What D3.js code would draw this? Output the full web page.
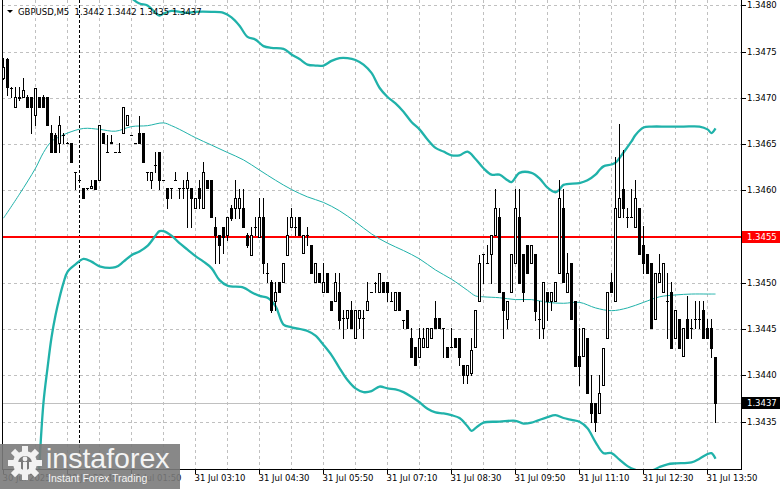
<!DOCTYPE html>
<html><head><meta charset="utf-8">
<script src="https://cdn.jsdelivr.net/npm/d3@7"></script>
<style>html,body{margin:0;padding:0;background:#fff;overflow:hidden}svg{display:block}</style>
</head><body><svg id="c" width="781" height="489"></svg>
<script>
const symbolTitle = "GBPUSD,M5";
const headerOHLC = ["1.3442","1.3442","1.3435","1.3437"];
const levelPrice = 1.3455;
const lastPrice = 1.3437;
const priceTicks = [1.3435,1.3440,1.3445,1.3450,1.3455,1.3460,1.3465,1.3470,1.3475,1.3480];
const timeTickIdx = [0,16,32,48,64,80,96,112,128,144,160,176];
const timeLabels = ["30 Jul 2025","30 Jul 23:45","31 Jul 01:50","31 Jul 03:10","31 Jul 04:30","31 Jul 05:50","31 Jul 07:10","31 Jul 08:30","31 Jul 09:50","31 Jul 11:10","31 Jul 12:30","31 Jul 13:50"];
const separatorIdx = 19;

const openP = [
1.34722,1.34742,1.34711,1.34690,1.34701,1.34701,1.34701,1.34701,1.34681,1.34701,
1.34701,1.34701,1.34662,1.34660,1.34651,1.34660,1.34651,1.34651,1.34620,1.34611,
1.34603,1.34603,1.34603,1.34611,1.34611,1.34662,1.34642,1.34651,1.34642,1.34642,
1.34662,1.34671,1.34660,1.34651,1.34662,1.34662,1.34620,1.34611,1.34628,1.34642,
1.34611,1.34603,1.34603,1.34611,1.34603,1.34603,1.34603,1.34603,1.34581,1.34603,
1.34581,1.34611,1.34611,1.34561,1.34552,1.34561,1.34552,1.34581,1.34581,1.34581,
1.34581,1.34552,1.34530,1.34561,1.34550,1.34571,1.34511,1.34501,1.34481,1.34501,
1.34501,1.34530,1.34561,1.34561,1.34571,1.34532,1.34552,1.34541,1.34501,1.34511,
1.34490,1.34511,1.34481,1.34481,1.34490,1.34462,1.34462,1.34471,1.34440,1.34462,
1.34462,1.34471,1.34490,1.34500,1.34490,1.34501,1.34501,1.34481,1.34471,1.34490,
1.34460,1.34471,1.34440,1.34431,1.34420,1.34431,1.34431,1.34440,1.34462,1.34462,
1.34451,1.34431,1.34431,1.34440,1.34440,1.34411,1.34400,1.34403,1.34431,1.34481,
1.34531,1.34522,1.34531,1.34552,1.34571,1.34490,1.34461,1.34490,1.34522,1.34571,
1.34531,1.34541,1.34522,1.34531,1.34461,1.34451,1.34490,1.34481,1.34481,1.34511,
1.34581,1.34490,1.34522,1.34481,1.34421,1.34421,1.34440,1.34370,1.34370,1.34359,
1.34390,1.34440,1.34501,1.34481,1.34571,1.34602,1.34571,1.34571,1.34561,1.34581,
1.34541,1.34531,1.34522,1.34461,1.34501,1.34490,1.34481,1.34490,1.34440,1.34461,
1.34421,1.34461,1.34451,1.34461,1.34461,1.34471,1.34451,1.34451,1.34420];
const highP = [
1.34743,1.34743,1.34712,1.34712,1.34712,1.34722,1.34703,1.34701,1.34711,1.34701,
1.34703,1.34701,1.34671,1.34662,1.34680,1.34662,1.34652,1.34651,1.34620,1.34614,
1.34603,1.34603,1.34611,1.34611,1.34671,1.34662,1.34660,1.34660,1.34642,1.34651,
1.34690,1.34682,1.34660,1.34651,1.34680,1.34662,1.34620,1.34620,1.34641,1.34642,
1.34611,1.34603,1.34603,1.34620,1.34603,1.34611,1.34620,1.34603,1.34592,1.34611,
1.34631,1.34611,1.34611,1.34571,1.34552,1.34561,1.34571,1.34584,1.34611,1.34601,
1.34601,1.34554,1.34560,1.34571,1.34592,1.34592,1.34522,1.34503,1.34501,1.34501,
1.34522,1.34571,1.34581,1.34571,1.34571,1.34552,1.34561,1.34541,1.34522,1.34511,
1.34522,1.34511,1.34481,1.34511,1.34511,1.34471,1.34471,1.34481,1.34471,1.34471,
1.34471,1.34501,1.34490,1.34501,1.34511,1.34501,1.34501,1.34490,1.34490,1.34490,
1.34460,1.34471,1.34451,1.34431,1.34451,1.34451,1.34451,1.34451,1.34481,1.34462,
1.34451,1.34431,1.34451,1.34440,1.34440,1.34411,1.34411,1.34440,1.34471,1.34530,
1.34531,1.34541,1.34552,1.34601,1.34581,1.34490,1.34481,1.34531,1.34602,1.34602,
1.34531,1.34541,1.34541,1.34531,1.34481,1.34501,1.34490,1.34490,1.34501,1.34611,
1.34601,1.34532,1.34522,1.34481,1.34451,1.34451,1.34440,1.34400,1.34370,1.34400,
1.34430,1.34490,1.34511,1.34636,1.34672,1.34644,1.34581,1.34602,1.34611,1.34581,
1.34562,1.34531,1.34522,1.34511,1.34531,1.34522,1.34511,1.34501,1.34471,1.34461,
1.34451,1.34486,1.34461,1.34481,1.34481,1.34481,1.34461,1.34461,1.34420];
const lowP = [
1.34720,1.34703,1.34701,1.34690,1.34698,1.34701,1.34690,1.34662,1.34671,1.34690,
1.34690,1.34671,1.34642,1.34642,1.34642,1.34651,1.34651,1.34631,1.34601,1.34609,
1.34592,1.34601,1.34603,1.34601,1.34611,1.34651,1.34642,1.34651,1.34642,1.34642,
1.34662,1.34671,1.34660,1.34651,1.34651,1.34631,1.34611,1.34603,1.34620,1.34601,
1.34611,1.34581,1.34592,1.34611,1.34592,1.34592,1.34561,1.34561,1.34581,1.34581,
1.34581,1.34603,1.34571,1.34522,1.34522,1.34532,1.34546,1.34568,1.34570,1.34570,
1.34561,1.34539,1.34530,1.34552,1.34550,1.34511,1.34501,1.34469,1.34471,1.34490,
1.34501,1.34530,1.34561,1.34552,1.34552,1.34532,1.34541,1.34511,1.34501,1.34501,
1.34490,1.34490,1.34471,1.34481,1.34451,1.34440,1.34451,1.34451,1.34440,1.34451,
1.34440,1.34471,1.34490,1.34490,1.34490,1.34490,1.34481,1.34481,1.34471,1.34471,
1.34451,1.34451,1.34420,1.34411,1.34420,1.34431,1.34431,1.34440,1.34451,1.34451,
1.34420,1.34420,1.34431,1.34431,1.34411,1.34392,1.34392,1.34400,1.34431,1.34481,
1.34500,1.34522,1.34500,1.34552,1.34490,1.34440,1.34451,1.34490,1.34522,1.34500,
1.34481,1.34511,1.34522,1.34460,1.34440,1.34440,1.34460,1.34471,1.34481,1.34511,
1.34501,1.34490,1.34461,1.34410,1.34390,1.34421,1.34381,1.34350,1.34340,1.34359,
1.34390,1.34440,1.34490,1.34481,1.34571,1.34571,1.34561,1.34571,1.34561,1.34531,
1.34511,1.34511,1.34451,1.34461,1.34501,1.34490,1.34440,1.34430,1.34440,1.34430,
1.34421,1.34440,1.34440,1.34451,1.34451,1.34440,1.34440,1.34420,1.34350];
const closeP = [
1.34733,1.34712,1.34711,1.34701,1.34700,1.34709,1.34690,1.34690,1.34711,1.34690,
1.34690,1.34671,1.34642,1.34642,1.34671,1.34660,1.34651,1.34631,1.34620,1.34611,
1.34592,1.34603,1.34605,1.34601,1.34671,1.34651,1.34642,1.34652,1.34642,1.34642,
1.34690,1.34682,1.34660,1.34651,1.34651,1.34631,1.34620,1.34620,1.34628,1.34611,
1.34611,1.34592,1.34603,1.34611,1.34603,1.34603,1.34611,1.34592,1.34592,1.34592,
1.34620,1.34603,1.34571,1.34552,1.34541,1.34550,1.34571,1.34570,1.34592,1.34592,
1.34561,1.34541,1.34552,1.34561,1.34571,1.34522,1.34511,1.34471,1.34490,1.34490,
1.34522,1.34552,1.34571,1.34561,1.34552,1.34552,1.34552,1.34511,1.34522,1.34501,
1.34501,1.34490,1.34471,1.34501,1.34460,1.34462,1.34471,1.34451,1.34471,1.34471,
1.34462,1.34481,1.34490,1.34500,1.34511,1.34490,1.34490,1.34481,1.34490,1.34471,
1.34460,1.34451,1.34420,1.34411,1.34440,1.34440,1.34451,1.34451,1.34451,1.34451,
1.34451,1.34420,1.34431,1.34431,1.34420,1.34400,1.34411,1.34428,1.34471,1.34522,
1.34531,1.34522,1.34552,1.34581,1.34490,1.34471,1.34481,1.34531,1.34581,1.34500,
1.34490,1.34511,1.34541,1.34470,1.34461,1.34501,1.34481,1.34490,1.34501,1.34592,
1.34501,1.34511,1.34461,1.34410,1.34410,1.34451,1.34381,1.34359,1.34350,1.34381,
1.34430,1.34490,1.34490,1.34581,1.34592,1.34581,1.34571,1.34571,1.34592,1.34531,
1.34522,1.34511,1.34451,1.34511,1.34511,1.34522,1.34481,1.34430,1.34471,1.34430,
1.34451,1.34440,1.34451,1.34461,1.34461,1.34440,1.34440,1.34430,1.34370];

// Bollinger bands (read at selected bar indices)
const upperIdx = [28,32,34,36,38,39,40,42,44,46,48,52,55,57,59,61,63,65,67,70,72,74,76,78,80,82,84,86,88,90,92,94,96,98,100,102,104,106,108,110,112,114,116,118,120,122,124,126,127,129,132,134,136,138,139,140,144,146,148,149,150,152,153,154,155,157,158,160,162,166,170,174,176,177,178];
const upperVal = [1.34828,1.34808,1.34802,1.34800,1.34792,1.34789,1.34791,1.34794,1.34793,1.34792,1.34793,1.34793,1.34792,1.34787,1.34778,1.34766,1.34763,1.34756,1.34754,1.34753,1.34747,1.34742,1.34736,1.34735,1.34735,1.34740,1.34743,1.34743,1.34741,1.34736,1.34727,1.34711,1.34701,1.34694,1.34685,1.34674,1.34666,1.34655,1.34646,1.34642,1.34638,1.34638,1.34642,1.34634,1.34624,1.34617,1.34617,1.34611,1.34609,1.34619,1.34619,1.34613,1.34603,1.34598,1.34601,1.34606,1.34608,1.34611,1.34617,1.34622,1.34626,1.34628,1.34630,1.34635,1.34641,1.34653,1.34660,1.34668,1.34669,1.34669,1.34669,1.34669,1.34666,1.34662,1.34667];
const midIdx = [0,4,8,10,12,14,16,20,24,28,32,36,40,42,44,48,52,56,60,64,68,72,76,80,84,88,92,96,100,104,108,112,116,118,120,124,128,132,136,140,144,148,152,156,160,164,168,172,176,178];
const midVal = [1.34570,1.34596,1.34624,1.34641,1.34653,1.34658,1.34662,1.34667,1.34666,1.34664,1.34669,1.34670,1.34673,1.34670,1.34666,1.34657,1.34649,1.34641,1.34633,1.34622,1.34611,1.34601,1.34593,1.34587,1.34578,1.34566,1.34553,1.34543,1.34535,1.34526,1.34514,1.34504,1.34492,1.34486,1.34485,1.34484,1.34482,1.34482,1.34479,1.34478,1.34479,1.34473,1.34470,1.34473,1.34479,1.34485,1.34487,1.34488,1.34488,1.34488];
const lowerIdx = [8,9,10,11,12,13,14,15,16,18,20,22,24,28,30,32,34,36,38,39,40,42,44,46,48,50,52,54,56,60,62,64,66,68,70,72,76,78,80,82,84,86,88,90,92,94,96,98,100,102,104,106,108,110,112,114,116,117,118,120,124,128,130,132,136,138,140,142,144,146,148,150,152,154,156,158,160,162,164,166,168,172,174,176,177,178];
const lowerVal = [1.34222,1.34306,1.34371,1.34408,1.34441,1.34465,1.34484,1.34500,1.34512,1.34520,1.34526,1.34523,1.34518,1.34517,1.34523,1.34530,1.34534,1.34540,1.34551,1.34556,1.34556,1.34551,1.34543,1.34536,1.34529,1.34523,1.34516,1.34503,1.34497,1.34495,1.34490,1.34486,1.34484,1.34475,1.34455,1.34452,1.34448,1.34443,1.34433,1.34422,1.34408,1.34395,1.34386,1.34382,1.34383,1.34388,1.34386,1.34385,1.34382,1.34377,1.34371,1.34364,1.34360,1.34359,1.34357,1.34354,1.34345,1.34340,1.34343,1.34349,1.34350,1.34351,1.34348,1.34349,1.34355,1.34357,1.34354,1.34352,1.34350,1.34343,1.34328,1.34316,1.34316,1.34309,1.34302,1.34298,1.34296,1.34297,1.34301,1.34304,1.34305,1.34306,1.34310,1.34315,1.34316,1.34310];

const svg = d3.select("#c");
const L = 2, R = 741, B = 469;
const x = d3.scaleLinear().domain([0, 178]).range([3.5, 715.5]);
const y = d3.scaleLinear().domain([1.3435, 1.3480]).range([421.7, 5.4]);
const col = i => Math.floor(x(i));
const FONT = "DejaVu Sans, Verdana, sans-serif";
const teal = "#20b2aa";

svg.append("rect").attr("width",781).attr("height",489).attr("fill","#fff");
svg.append("defs").append("clipPath").attr("id","plot").append("rect")
  .attr("x",L+1).attr("y",0).attr("width",R-L-1).attr("height",B);

// grid
const grid = svg.append("g").attr("shape-rendering","crispEdges");
grid.selectAll("line.h").data(priceTicks).join("line")
  .attr("x1",L).attr("x2",R).attr("y1",d=>Math.round(y(d))+0.5).attr("y2",d=>Math.round(y(d))+0.5)
  .attr("stroke","#c0c0c0").attr("stroke-dasharray","3,3");
const vgrid = d3.range(8, 179, 8);
grid.selectAll("line.v").data(vgrid).join("line")
  .attr("x1",d=>col(d)+0.5).attr("x2",d=>col(d)+0.5).attr("y1",0).attr("y2",B)
  .attr("stroke","#c0c0c0").attr("stroke-dasharray","3,3");
// period separator
grid.append("line").attr("x1",col(separatorIdx)+0.5).attr("x2",col(separatorIdx)+0.5)
  .attr("y1",0).attr("y2",B).attr("stroke","#000").attr("stroke-dasharray","3,2");

// bid line
grid.append("line").attr("x1",L).attr("x2",R).attr("y1",Math.round(y(lastPrice))+0.5).attr("y2",Math.round(y(lastPrice))+0.5)
  .attr("stroke","#c0c0c0");

// level line
svg.append("line").attr("x1",L).attr("x2",R).attr("y1",Math.round(y(levelPrice))).attr("y2",Math.round(y(levelPrice)))
  .attr("stroke","#ff0000").attr("stroke-width",2).attr("shape-rendering","crispEdges");

// bands
const plot = svg.append("g").attr("clip-path","url(#plot)");
function bandLine(idx, vals, w){
  const pts = idx.map((d,k)=>[x(d), y(vals[k])]);
  plot.append("path").attr("d", d3.line().curve(d3.curveCatmullRom.alpha(0.5))(pts))
    .attr("fill","none").attr("stroke",teal).attr("stroke-width",w).attr("stroke-linejoin","round");
}
bandLine(midIdx, midVal, 1);
bandLine(upperIdx, upperVal, 2.3);
bandLine(lowerIdx, lowerVal, 2.3);

// candles
const cg = svg.append("g").attr("shape-rendering","crispEdges");
const idx = d3.range(openP.length);
cg.selectAll("line.w").data(idx).join("line")
  .attr("x1",i=>col(i)+0.5).attr("x2",i=>col(i)+0.5)
  .attr("y1",i=>Math.round(y(highP[i]))).attr("y2",i=>Math.round(y(lowP[i]))+1)
  .attr("stroke","#000");
idx.forEach(i=>{
  const o = openP[i], c = closeP[i];
  const top = Math.round(y(Math.max(o,c))), bot = Math.round(y(Math.min(o,c)));
  const cx = col(i);
  if (bot - top < 1) {
    cg.append("rect").attr("x",cx-1).attr("y",top).attr("width",3).attr("height",1).attr("fill","#000");
  } else if (c < o) {
    cg.append("rect").attr("x",cx-1).attr("y",top).attr("width",3).attr("height",bot-top+1).attr("fill","#000");
  } else {
    cg.append("rect").attr("x",cx-0.5).attr("y",top+0.5).attr("width",2).attr("height",bot-top)
      .attr("fill","#fff").attr("stroke","#000");
  }
});

// frame
const fr = svg.append("g").attr("shape-rendering","crispEdges").attr("stroke","#000");
fr.append("line").attr("x1",L+0.5).attr("x2",L+0.5).attr("y1",0).attr("y2",B+1);
fr.append("line").attr("x1",L).attr("x2",R+1).attr("y1",B+0.5).attr("y2",B+0.5);
fr.append("line").attr("x1",R+0.5).attr("x2",R+0.5).attr("y1",0).attr("y2",B+1);

// right price axis
const ya = svg.append("g").attr("transform",`translate(${R+1},0)`)
  .call(d3.axisRight(y).tickValues(priceTicks).tickSize(4).tickPadding(2).tickFormat(d3.format(".4f")));
ya.select(".domain").remove();
ya.selectAll(".tick").attr("transform",d=>`translate(0,${Math.round(y(d))+0.5})`);
ya.selectAll(".tick line").attr("stroke","#000").attr("shape-rendering","crispEdges");
ya.selectAll(".tick text").attr("font-family",FONT).attr("font-size","8.5px").attr("fill","#000").attr("x",5).attr("dy","0.32em");

// bottom time axis
const xa = svg.append("g").attr("transform",`translate(0,${B+1})`)
  .call(d3.axisBottom(x).tickValues(timeTickIdx).tickSize(4).tickFormat((d,k)=>timeLabels[k]));
xa.select(".domain").remove();
xa.selectAll(".tick").attr("transform",d=>`translate(${col(d)+0.5},0)`);
xa.selectAll(".tick line").attr("stroke","#000").attr("shape-rendering","crispEdges");
xa.selectAll(".tick text").attr("font-family",FONT).attr("font-size","8.5px").attr("fill","#000")
  .attr("text-anchor","start").attr("x",-1).attr("y",5).attr("dy","0.71em");

// price labels
function priceBox(p, fill){
  const yy = Math.round(y(p));
  svg.append("rect").attr("x",R+1).attr("y",yy-6).attr("width",38).attr("height",12).attr("fill",fill).attr("shape-rendering","crispEdges");
  svg.append("text").attr("x",R+6).attr("y",yy).attr("dy","0.34em").attr("font-family",FONT).attr("font-size","8.5px")
    .attr("fill","#fff").text(d3.format(".4f")(p));
}
priceBox(levelPrice, "#ff0000");
priceBox(lastPrice, "#000");

// header
svg.append("path").attr("d","M7,10L13,10L10,13Z").attr("fill","#000");
svg.append("text").attr("x",18).attr("y",14.5).attr("font-family",FONT).attr("font-size","8.5px")
  .attr("fill","#000").style("white-space","pre").text(symbolTitle + "  " + headerOHLC.join(" "));

// watermark logo
const lg = svg.append("g");
lg.append("rect").attr("x",0).attr("y",444).attr("width",180).attr("height",45).attr("fill","#7b7b7b").attr("opacity",0.9);
const gear = lg.append("g").attr("transform","translate(25,463)");
d3.range(8).forEach(k=>{
  gear.append("rect").attr("x",-3).attr("y",-17).attr("width",6).attr("height",7).attr("fill","#f2f2f2")
    .attr("transform",`rotate(${k*45})`);
});
gear.append("circle").attr("r",12).attr("fill","#f2f2f2");
gear.append("circle").attr("r",7).attr("fill","#7b7b7b");
gear.append("circle").attr("cx",0).attr("cy",-4).attr("r",2.4).attr("fill","#f2f2f2");
gear.append("rect").attr("x",-2).attr("y",-1).attr("width",4).attr("height",16).attr("fill","#f2f2f2");
gear.append("rect").attr("x",-7).attr("y",-1).attr("width",3).attr("height",10).attr("fill","#f2f2f2");
gear.append("rect").attr("x",4).attr("y",-1).attr("width",3).attr("height",10).attr("fill","#f2f2f2");
lg.append("text").attr("x",46).attr("y",468).attr("font-family","Liberation Sans, Arial, sans-serif").attr("font-size","28.5px")
  .attr("fill","#f4f4f4").text("instaforex");
lg.append("text").attr("x",48).attr("y",482).attr("font-family","Liberation Sans, Arial, sans-serif").attr("font-size","10.5px")
  .attr("fill","#f4f4f4").text("Instant Forex Trading");
</script></body></html>
